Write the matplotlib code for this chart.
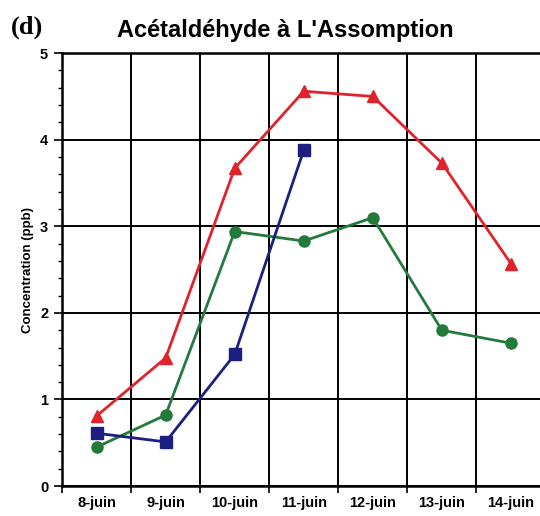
import matplotlib.pyplot as plt
import numpy as np
from matplotlib.ticker import MultipleLocator

# Données
jours = ["8-juin", "9-juin", "10-juin", "11-juin", "12-juin", "13-juin", "14-juin"]
serie_rouge = [0.81, 1.48, 3.67, 4.56, 4.50, 3.73, 2.57]
serie_verte = [0.45, 0.82, 2.94, 2.83, 3.10, 1.80, 1.65]
serie_bleue = [0.61, 0.51, 1.52, 3.88]

fig = plt.figure(figsize=(5.4, 5.16), dpi=100)
ax = fig.add_axes([0.115, 0.058, 0.895, 0.839])

x = np.arange(len(jours))
ax.plot(x, serie_rouge, color="#e0232b", lw=2, marker="^", ms=8, zorder=3)
ax.plot(x, serie_verte, color="#237a3a", lw=2, marker="o", ms=8, zorder=3)
ax.plot(x[:len(serie_bleue)], serie_bleue, color="#1c1f80", lw=2, marker="s", ms=8, zorder=4)

ax.set_xlim(-0.5, len(jours) - 0.5)
ax.set_ylim(0, 5)

ax.set_xticks(x)
ax.set_xticklabels(jours, fontsize=10.5, fontweight="bold", family="Liberation Sans")
ax.set_xticks(np.arange(-0.5, len(jours)), minor=True)
ax.tick_params(axis="x", which="major", length=0, pad=7)
ax.tick_params(axis="x", which="minor", length=5, width=1.2, direction="out")

ax.yaxis.set_major_locator(MultipleLocator(1))
ax.yaxis.set_minor_locator(MultipleLocator(0.2))
ax.tick_params(axis="y", which="major", length=6, width=1.2, pad=4)
ax.tick_params(axis="y", which="minor", length=3, width=1)
for lab in ax.get_yticklabels():
    lab.set_fontweight("bold")
    lab.set_fontsize(10.5)
    lab.set_family("Liberation Sans")

ax.grid(True, axis="y", which="major", color="black", lw=1.4)
ax.grid(True, axis="x", which="minor", color="black", lw=1.4)
ax.set_axisbelow(True)
for s in ax.spines.values():
    s.set_linewidth(1.8)

ax.set_ylabel("Concentration (ppb)", fontsize=9.5, fontweight="bold",
              family="Liberation Sans", labelpad=4)

fig.text(0.528, 0.94, "Acétaldéhyde à L'Assomption", ha="center", va="center",
         fontsize=17, fontweight="bold", family="Liberation Sans")
fig.text(0.02, 0.948, "(d)", ha="left", va="center", fontsize=19,
         fontweight="bold", family="Liberation Serif")

fig.savefig("out.png", dpi=100)
